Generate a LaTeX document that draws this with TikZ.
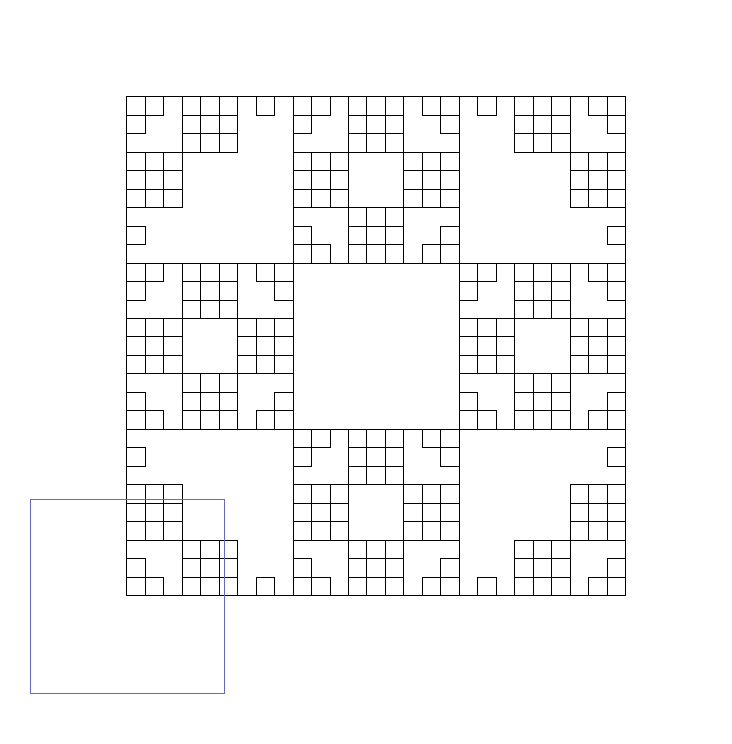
\documentclass[tikz,border=0pt]{standalone}
\newcommand\mysq[2]{\draw ({#1},{#2}) rectangle ++(1,1);}
\newcommand\mygrid[2]{\foreach \i in {0,1,2}{\foreach \j in {0,1,2}{\draw ({#1+\i},{#2+\j}) rectangle ++(1,1);}}}
\begin{document}
\begin{tikzpicture}[x=0.75pt,y=-0.75pt]
\useasboundingbox (0,0) rectangle (732,744);
\begin{scope}[shift={(126.7,96.7)}]
\begin{scope}[x=13.861pt,y=-13.861pt,line width=0.7pt,black]
% level-1 cells
\foreach \a in {0,9,18,27}{
  \draw (\a,0) -- (\a,27);
  \draw (0,\a) -- (27,\a);
}
% corner cells
% top-left
\mysq{0}{0}\mysq{1}{0}\mysq{0}{1}
\mygrid{3}{0}\mygrid{0}{3}
\mysq{7}{0}\mysq{0}{7}
% top-right
\mysq{25}{0}\mysq{26}{0}\mysq{26}{1}
\mygrid{21}{0}\mygrid{24}{3}
\mysq{19}{0}\mysq{26}{7}
% bottom-left
\mysq{0}{25}\mysq{0}{26}\mysq{1}{26}
\mygrid{0}{21}\mygrid{3}{24}
\mysq{0}{19}\mysq{7}{26}
% bottom-right
\mysq{26}{25}\mysq{25}{26}\mysq{26}{26}
\mygrid{24}{21}\mygrid{21}{24}
\mysq{26}{19}\mysq{19}{26}
% edge cells
\foreach \ox/\oy in {9/0,0/9,18/9,9/18}{
  \mygrid{\ox+3}{\oy}\mygrid{\ox}{\oy+3}\mygrid{\ox+6}{\oy+3}\mygrid{\ox+3}{\oy+6}
  \mysq{\ox}{\oy}\mysq{\ox+1}{\oy}\mysq{\ox}{\oy+1}
  \mysq{\ox+7}{\oy}\mysq{\ox+8}{\oy}\mysq{\ox+8}{\oy+1}
  \mysq{\ox}{\oy+7}\mysq{\ox}{\oy+8}\mysq{\ox+1}{\oy+8}
  \mysq{\ox+8}{\oy+7}\mysq{\ox+7}{\oy+8}\mysq{\ox+8}{\oy+8}
  \draw (\ox,\oy) rectangle ++(3,3);
  \draw (\ox+6,\oy) rectangle ++(3,3);
  \draw (\ox,\oy+6) rectangle ++(3,3);
  \draw (\ox+6,\oy+6) rectangle ++(3,3);
}
\end{scope}
\end{scope}
% blue square
\draw[line width=0.7pt, color={rgb,255:red,100;green,100;blue,235}] (30,499) rectangle (224,693);
\end{tikzpicture}
\end{document}
